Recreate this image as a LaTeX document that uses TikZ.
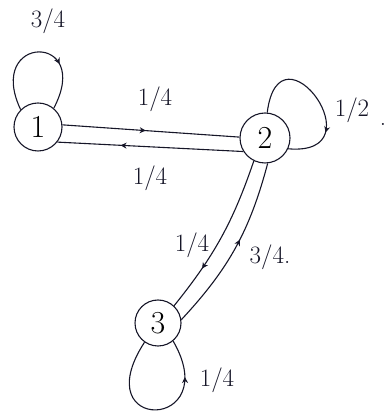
\documentclass[tikz,border=0pt]{standalone}
\usetikzlibrary{arrows.meta,decorations.markings}
\definecolor{ink}{RGB}{22,22,40}
\tikzset{
  x=1pt, y=1pt,
  state/.style={circle, draw=ink, line width=1.1pt, inner sep=0pt, minimum size=48pt, font=\fontsize{32}{34}\selectfont},
  lab/.style={font=\fontsize{25}{27}\selectfont, text=ink, inner sep=0pt},
  conn/.style={draw=ink, line width=1.1pt},
  midarrow/.style={postaction={decorate}, decoration={markings, mark=at position #1 with {\arrow[ink, line width=1pt]{Stealth[length=6pt,width=6pt]}}}}
}
\begin{document}
\begin{tikzpicture}
\useasboundingbox (0,0) rectangle (389,414);
% states
\node[state] (n1) at (38,287) {1};
\node[state, minimum size=50pt] (n2) at (265,276) {2};
\node[state, minimum size=46pt] (n3) at (158,91) {3};
% self loops
\draw[conn, midarrow=0.68] (n1.135) .. controls +(-36,76) and +(40,76) .. (n1.50);
\draw[conn, midarrow=0.72] (n2.85) .. controls +(12,95) and +(92,-8) .. (n2.-25);
\draw[conn, midarrow=0.78] (n3.235) .. controls +(-60,-92) and +(52,-90) .. (n3.310);
% edges between 1 and 2
\draw[conn, midarrow=0.47] (n1.5) -- (n2.178);
\draw[conn, midarrow=0.66] (n2.212) -- (n1.-38);
% edges between 2 and 3
\draw[conn, midarrow=0.72] (n2.244) to[bend left=10] (n3.47);
\draw[conn, midarrow=0.55] (n3.8) to[bend right=14] (n2.276);
% labels
\node[lab] (l11) at (48,393) {3/4};
\node[lab] (l12) at (155,315) {1/4};
\node[lab] (l21) at (150,236) {1/4};
\node[lab] (l22) at (352,304) {1/2};
\node[lab] (dot2) at (383,290) {.};
\node[lab] (l23) at (192,169) {1/4};
\node[lab] (l32) at (270,157) {3/4.};
\node[lab] (l33) at (217,34) {1/4};
\end{tikzpicture}
\end{document}
